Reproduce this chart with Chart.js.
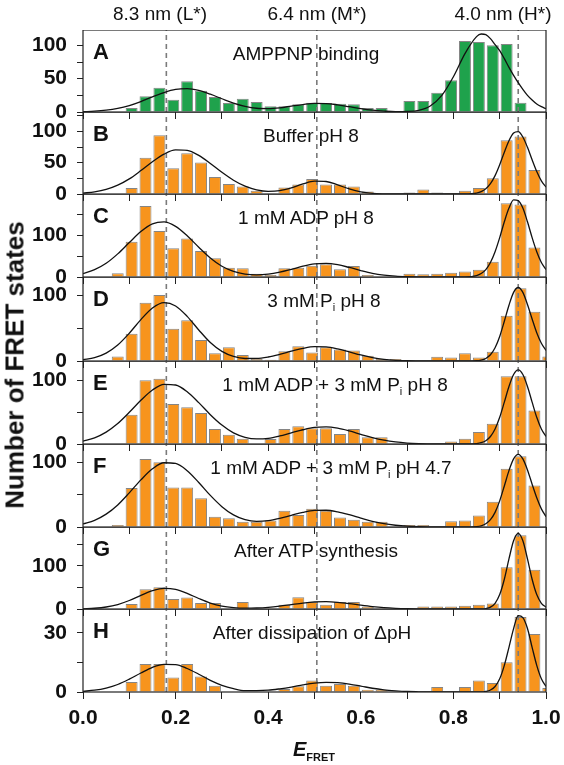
<!DOCTYPE html>
<html>
<head>
<meta charset="utf-8">
<script src="https://cdn.jsdelivr.net/npm/chart.js@4.4.1/dist/chart.umd.min.js"></script>
<style>
  body { margin: 0; background: #fff; }
  #fig { position: relative; width: 564px; height: 765px; overflow: hidden; font-family: "Liberation Sans", Arial, sans-serif; color: #111; }
  #fig canvas { position: absolute; left: 0; }
  .txt { position: absolute; white-space: nowrap; transform: translate(-50%, -50%); z-index: 5; }
  .top { font-size: 19px; }
  .letter { font-size: 22px; font-weight: bold; transform: translate(0, -50%); }
  .title { font-size: 19px; }
  .title sub { font-size: 11px; vertical-align: -4px; }
  .ytitle { font-size: 26px; font-weight: bold; transform: translate(-50%, -50%) rotate(-90deg); }
  .xtitle { font-size: 20px; font-weight: bold; font-style: italic; }
  .xtitle sub { font-size: 11px; font-style: normal; vertical-align: -5px; }
</style>
</head>
<body>
<div id="fig"></div>
<script>
// Histogram bins (width 0.03) and counts
const binCenters = [0.015, 0.045, 0.075, 0.105, 0.135, 0.165, 0.195, 0.225, 0.255, 0.285,
  0.315, 0.345, 0.375, 0.405, 0.435, 0.465, 0.495, 0.525, 0.555, 0.585,
  0.615, 0.645, 0.675, 0.705, 0.735, 0.765, 0.795, 0.825, 0.855, 0.885,
  0.915, 0.945, 0.975, 1.005];

const countsA = [0, 0, 0, 6, 23.5, 36.5, 18.5, 46, 32, 22.5, 13.5, 20, 15, 8.5, 8.5, 11.5, 14, 13.5, 12.5, 11.5, 6, 6, 0, 16.5, 16.5, 29, 47.5, 106.5, 105, 100, 102, 14, 0, 0];
const countsB = [0, 0, 0, 9.5, 58, 94, 41, 65, 50.5, 27, 16, 12, 5, 1, 10.5, 15, 24, 15, 15, 12, 4, 0, 0, 2.5, 7, 2.5, 1.5, 5, 9.5, 25, 86, 92, 38.5, 0];
const countsC = [0, 0, 9, 85, 171, 111, 69, 93, 62.5, 45, 22.5, 21, 8, 5, 21, 22.5, 27, 30.5, 18.5, 26.5, 5, 0, 0, 8, 6.5, 8, 10.5, 13, 17.5, 37, 178, 175, 71, 0];
const countsD = [0, 0, 7, 41.5, 88.7, 100.5, 49, 62, 32, 12, 21, 9, 3, 2, 15, 22.5, 13, 21, 17.5, 16, 8, 3, 3, 0, 0, 6.5, 5.5, 12, 5.5, 14, 69, 111, 75, 7];
const countsE = [0, 0, 0, 46, 100.5, 103, 63, 58, 49, 23.7, 14.7, 8.4, 0, 8, 23.7, 28, 25, 25, 15.8, 23.7, 10.5, 10.5, 0, 0, 0, 0, 4, 8.4, 19, 32, 107, 107, 53, 0];
const countsF = [0, 0, 3, 60, 105, 100, 61, 61, 44.5, 16, 13.5, 8, 8, 10, 25, 18.6, 28, 25, 14.5, 11, 8, 8, 0, 3, 3, 0, 9, 10, 17.6, 39, 90, 109, 64, 0];
const countsG = [0, 0, 0, 11.5, 46, 50.5, 23, 26.6, 13.8, 13.8, 0, 16, 0, 2, 10, 27.5, 16, 10, 16, 16, 6, 2, 0, 0, 6, 6, 6, 7.6, 10, 13, 97, 171, 91, 0];
const countsH = [0, 0, 0, 5, 14.2, 14.2, 7.4, 14.2, 7.9, 3.2, 0, 0, 0, 0, 1.5, 2.9, 5.8, 3.2, 4, 3.2, 1.2, 1.2, 0, 0, 0, 2.5, 0, 2.5, 5.8, 4.5, 15, 38, 29.3, 2];

// Fitted curves: heights at these E_FRET positions
const fitX = [0, 0.025, 0.05, 0.075, 0.1, 0.125, 0.15, 0.175, 0.2, 0.225,
  0.25, 0.275, 0.3, 0.325, 0.35, 0.375, 0.4, 0.425, 0.45, 0.475,
  0.5, 0.525, 0.55, 0.575, 0.6, 0.625, 0.65, 0.675, 0.7, 0.725,
  0.75, 0.775, 0.8, 0.825, 0.85, 0.86, 0.87, 0.88, 0.89, 0.9,
  0.91, 0.92, 0.93, 0.94, 0.95, 0.96, 0.97, 0.98, 0.99, 1.0];

const fitA = [0.5, 1.2, 2.7, 5.4, 9.7, 15.7, 22.7, 29.2, 33.8, 35,
  32.3, 26.7, 19.9, 13.3, 8.4, 5.6, 5.1, 6.3, 8.8, 11.2,
  12.8, 12.7, 10.8, 7.9, 5.0, 2.7, 1.3, 0.5, 0.8, 2.6,
  9.1, 24.9, 52.9, 87.6, 113, 117, 116, 110, 101, 92,
  80, 67, 55, 44, 34, 25, 18, 12, 8, 5];
const fitB = [1.4, 3.4, 7.3, 14.1, 24.1, 37.4, 51.6, 63.7, 70.4, 69.6,
  61.6, 48.8, 34.6, 22, 12.5, 6.7, 4.3, 5.3, 9.7, 16,
  20.5, 20, 14.6, 8.1, 3.4, 1.05, 0.25, 0.04, 0, 0,
  0, 0, 0, 0.1, 1.5, 3.7, 8.3, 16.4, 29.3, 46.7,
  66.7, 85, 97.3, 99.5, 91, 74.5, 54.6, 35.9, 21, 11];
const fitC = [8.2, 17.6, 33, 55.7, 83, 109.5, 128, 132.7, 122, 99.4,
  71.8, 45.9, 26, 13.6, 6.9, 5, 6.8, 11.6, 18.5, 26,
  31.5, 32.9, 29.7, 23, 15.5, 8.9, 4.5, 1.9, 0.7, 0.2,
  0, 0, 0, 0.2, 3.4, 8.3, 17.9, 35, 61, 95,
  133, 166, 186, 184, 166, 133, 95, 61, 35, 17.9];
const fitD = [1.9, 5.1, 12, 24.3, 42.3, 63.1, 80.8, 89, 83.9, 68,
  47.3, 28.1, 14.6, 6.9, 3.8, 3.9, 6.1, 10.1, 14.9, 19.3,
  21.8, 21.5, 18.5, 13.9, 9.2, 5.3, 2.6, 1.1, 0.4, 0.15,
  0, 0, 0, 0, 0.4, 1.4, 3.9, 9.5, 20.2, 37.4,
  60.5, 85, 104.6, 112, 104.6, 86, 64, 43, 27, 16];
const fitE = [4.5, 9.8, 18.8, 32.3, 50, 69, 85.2, 94.2, 93.1, 82.5,
  65.3, 46.3, 29.9, 17.5, 10.6, 8.1, 9, 12.7, 17.7, 22.5,
  26.1, 26.9, 24.9, 20.6, 15.3, 10.1, 6, 3.2, 1.5, 0.6,
  0.25, 0, 0, 0, 0.7, 2, 5.1, 11.8, 23.6, 42.1,
  66.1, 90.8, 109.7, 117, 109.7, 90.8, 66.1, 42.1, 23.6, 11.8];
const fitF = [4.7, 10.3, 19.8, 34, 52.7, 72.6, 89.7, 99.1, 98, 86.8,
  68.7, 48.7, 31.4, 18.6, 11.2, 8.6, 9.7, 13.3, 18.1, 22.6,
  25.5, 25.8, 23.3, 18.9, 13.7, 8.8, 5.1, 2.7, 1.2, 0.5,
  0.2, 0, 0, 0, 0.7, 1.9, 4.9, 11.3, 22.6, 40.3,
  63.3, 86.9, 105, 112, 105, 88, 66, 45, 28, 16];
const fitG = [0.5, 1.7, 4.6, 10.4, 19.7, 31.5, 42.3, 47.8, 45.4, 36.2,
  24.3, 13.7, 6.6, 3, 1.8, 2.3, 3.9, 6.7, 10.3, 13.8,
  16.3, 17, 15.5, 12.5, 8.8, 5.5, 3, 1.5, 0.6, 0.2,
  0, 0, 0, 0, 0, 0.2, 1.1, 4.2, 13.3, 33.4,
  69, 116, 158, 175, 158, 116, 69, 33.4, 13.3, 4.2];
const fitH = [0.35, 0.9, 2, 3.8, 6.5, 9.6, 12.5, 14, 13.9, 11.9,
  9, 5.9, 3.4, 1.7, 0.7, 0.7, 0.9, 1.6, 2.5, 3.6,
  4.5, 4.9, 4.7, 4, 3, 1.9, 1.1, 0.6, 0.25, 0.1,
  0, 0, 0, 0, 0, 0, 0.3, 1, 2.8, 6.7,
  13.5, 22.6, 32.1, 38.6, 37.6, 32.1, 22.6, 13.5, 6.7, 2.8];

// Reference distances (dashed lines) and their labels
const refLinesX = [0.18, 0.505, 0.94];
const refLabels = ['8.3 nm (L*)', '6.4 nm (M*)', '4.0 nm (H*)'];

const GREEN = '#1fa24c';
const ORANGE = '#f7941d';

const panels = [
  { letter: 'A', title: 'AMPPNP binding', counts: countsA, fit: fitA, color: GREEN, yMax: 123, yStep: 25, yLabels: [0, 50, 100], tx: 306 },
  { letter: 'B', title: 'Buffer pH 8', counts: countsB, fit: fitB, color: ORANGE, yMax: 131, yStep: 25, yLabels: [0, 50, 100], tx: 311 },
  { letter: 'C', title: '1 mM ADP pH 8', counts: countsC, fit: fitC, color: ORANGE, yMax: 200, yStep: 50, yLabels: [0, 100], tx: 306 },
  { letter: 'D', title: '3 mM P<sub>i</sub> pH 8', counts: countsD, fit: fitD, color: ORANGE, yMax: 128, yStep: 50, yLabels: [0, 100], tx: 324 },
  { letter: 'E', title: '1 mM ADP + 3 mM P<sub>i</sub> pH 8', counts: countsE, fit: fitE, color: ORANGE, yMax: 131, yStep: 50, yLabels: [0, 100], tx: 335 },
  { letter: 'F', title: '1 mM ADP + 3 mM P<sub>i</sub> pH 4.7', counts: countsF, fit: fitF, color: ORANGE, yMax: 128, yStep: 50, yLabels: [0, 100], tx: 331 },
  { letter: 'G', title: 'After ATP synthesis', counts: countsG, fit: fitG, color: ORANGE, yMax: 190, yStep: 50, yLabels: [0, 100], tx: 316 },
  { letter: 'H', title: 'After dissipation of &Delta;pH', counts: countsH, fit: fitH, color: ORANGE, yMax: 42, yStep: 15, yLabels: [0, 30], tx: 312 }
];

// Layout: top edge of each panel's plot box, last entry is the bottom of H
const panelTops = [30, 112, 194, 277, 361, 444, 527, 609, 692];
const PLOT_RIGHT_PAD = 18;
const Y_AXIS_W = 83;
const FONT = '"Liberation Sans", Arial, sans-serif';

const framePlugin = {
  id: 'frame',
  afterDraw(chart) {
    const { ctx, chartArea: a } = chart;
    ctx.save();
    ctx.strokeStyle = '#222';
    ctx.lineWidth = 1.2;
    ctx.strokeRect(a.left, a.top, a.right - a.left, a.bottom - a.top);
    ctx.restore();
  }
};

const fig = document.getElementById('fig');

function addText(cls, html, x, y) {
  const d = document.createElement('div');
  d.className = 'txt ' + cls;
  d.innerHTML = html;
  d.style.left = x + 'px';
  d.style.top = y + 'px';
  fig.appendChild(d);
}

function buildPanel(p, i) {
  const top = panelTops[i];
  const h = panelTops[i + 1] - top;
  const last = i === panels.length - 1;
  const axisH = last ? 48 : 10;

  const canvas = document.createElement('canvas');
  canvas.width = 564;
  canvas.height = h + axisH;
  canvas.style.top = top + 'px';
  canvas.style.width = '564px';
  canvas.style.height = (h + axisH) + 'px';
  fig.appendChild(canvas);

  const datasets = [
    {
      type: 'line',
      data: fitX.map((x, k) => ({ x, y: p.fit[k] })),
      borderColor: '#111',
      borderWidth: 1.3,
      pointRadius: 0,
      cubicInterpolationMode: 'monotone',
      order: 1
    },
    ...refLinesX.map(x => ({
      type: 'line',
      data: [{ x, y: 0 }, { x, y: p.yMax }],
      borderColor: '#7b7b7b',
      borderWidth: 1.6,
      borderDash: [5, 4],
      pointRadius: 0,
      order: 2
    })),
    {
      type: 'bar',
      data: binCenters.map((x, k) => ({ x, y: p.counts[k] })),
      backgroundColor: p.color,
      borderColor: '#858585',
      borderWidth: 1,
      barPercentage: 0.86,
      categoryPercentage: 1,
      order: 3
    }
  ];

  new Chart(canvas, {
    type: 'bar',
    data: { datasets },
    options: {
      responsive: false,
      animation: false,
      events: [],
      layout: { autoPadding: false, padding: { left: 0, right: PLOT_RIGHT_PAD, top: 0, bottom: 0 } },
      plugins: { legend: { display: false }, tooltip: { enabled: false } },
      scales: {
        x: {
          type: 'linear',
          min: 0,
          max: 1,
          offset: false,
          ticks: {
            stepSize: 0.1,
            autoSkip: false,
            maxRotation: 0,
            padding: 7,
            color: '#111',
            font: { family: FONT, size: 21, weight: 'bold' },
            callback: v => (last && Math.round(v * 10) % 2 === 0) ? v.toFixed(1) : ''
          },
          grid: { drawOnChartArea: false, drawTicks: true, tickLength: 7, color: '#222', offset: false },
          border: { display: false },
          afterFit(s) {
            s.height = axisH;
            s.paddingLeft = 0;
            s.paddingRight = 0;
          }
        },
        y: {
          min: 0,
          max: p.yMax,
          ticks: {
            stepSize: p.yStep,
            includeBounds: false,
            autoSkip: false,
            padding: 10,
            color: '#111',
            font: { family: FONT, size: 21, weight: 'bold' },
            callback: v => p.yLabels.includes(v) ? String(v) : ''
          },
          grid: { drawOnChartArea: false, drawTicks: true, tickLength: 6, color: '#222' },
          border: { display: false },
          afterFit(s) {
            s.width = Y_AXIS_W;
            // keep tick labels from shrinking the plot box
            s.paddingTop = 0;
            s.paddingBottom = 0;
          }
        }
      }
    },
    plugins: [framePlugin]
  });

  addText('letter', p.letter, 93, top + 22);
  addText('title', p.title, p.tx, top + 24);
}

panels.forEach(buildPanel);

// Labels above the dashed reference lines
const refLabelX = [160, 317, 503];
refLabels.forEach((t, i) => addText('top', t, refLabelX[i], 14));

addText('ytitle', 'Number of FRET states', 15, 365);
addText('xtitle', 'E<sub>FRET</sub>', 314, 750);
</script>
</body>
</html>
